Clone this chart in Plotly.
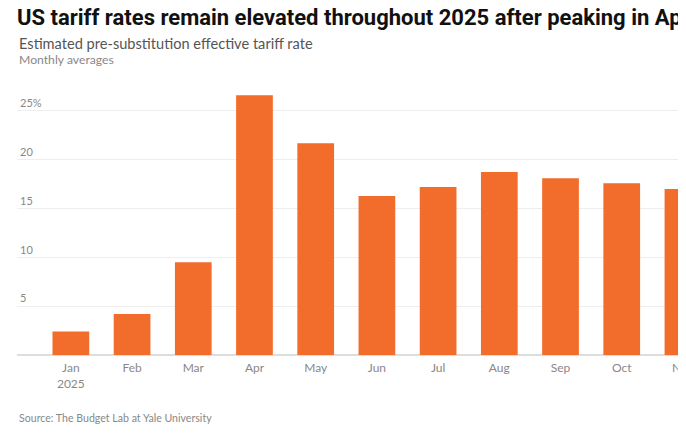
import plotly.graph_objects as go

months = ["Jan<br>2025", "Feb", "Mar", "Apr", "May", "Jun", "Jul", "Aug", "Sep", "Oct", "Nov"]
rates = [2.4, 4.2, 9.5, 26.6, 21.7, 16.3, 17.2, 18.75, 18.1, 17.6, 17.0]
tick_vals = [0, 5, 10, 15, 20, 25]
tick_text = ["", "5", "10", "15", "20", "25%"]

# page has an 8px body margin; figure coordinates are page coordinates minus 8
W, H = 678, 424
ML, MR, MT, MB = 9, 0, 82, 77
PH = H - MT - MB

def py(ypix):
    return (H - MB - ypix) / PH

fig = go.Figure(go.Bar(
    x=list(range(len(months))), y=rates,
    marker=dict(color="#F26D2C", line=dict(width=0)),
    hoverinfo="skip",
))

fig.update_layout(
    width=W, height=H,
    margin=dict(l=ML, r=MR, t=MT, b=MB, autoexpand=False),
    paper_bgcolor="white", plot_bgcolor="white",
    bargap=0.4,
    showlegend=False,
    font=dict(family="Lato, Roboto, sans-serif", color="#888"),
    title=dict(
        text="<b>US tariff rates remain elevated throughout 2025 after peaking in April</b>",
        x=ML / W, xanchor="left", y=1 - 9.5 / H, yanchor="middle",
        font=dict(family="Roboto", size=22, color="#111"),
    ),
    xaxis=dict(
        tickmode="array", tickvals=list(range(len(months))), ticktext=months,
        range=[-0.88, 10.05], showgrid=False, zeroline=False, showline=False,
        ticks="", ticklabelstandoff=4, ticklabeloverflow="allow", automargin=False,
        tickfont=dict(size=12, color="#888"),
    ),
    yaxis=dict(
        range=[0, 27.15], tickmode="array", tickvals=tick_vals, ticktext=tick_text,
        ticklabelposition="inside top", showgrid=True, gridcolor="#eeeeee", gridwidth=1,
        zeroline=True, zerolinecolor="#dddddd", zerolinewidth=1.5, automargin=False,
        showline=False, ticks="", tickfont=dict(size=11, color="#888"),
    ),
    annotations=[
        dict(text="Estimated pre-substitution effective tariff rate", xref="paper", yref="paper",
             x=0, y=py(35.5), xanchor="left", yanchor="middle", showarrow=False,
             font=dict(size=14.6, color="#555")),
        dict(text="Monthly averages", xref="paper", yref="paper",
             x=0, y=py(51), xanchor="left", yanchor="middle", showarrow=False,
             font=dict(size=12.2, color="#888")),
        dict(text="Source: The Budget Lab at Yale University", xref="paper", yref="paper",
             x=0, y=py(410), xanchor="left", yanchor="middle", showarrow=False,
             font=dict(size=10.6, color="#888")),
    ],
)

fig.write_html("out.html")
